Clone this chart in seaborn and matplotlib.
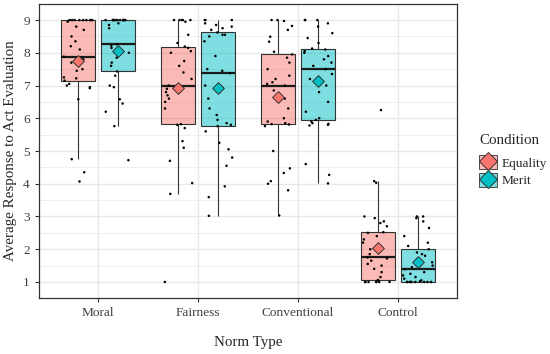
import numpy as np
import pandas as pd
import matplotlib
matplotlib.use("Agg")
import matplotlib.pyplot as plt
import matplotlib.colors as mcolors
from matplotlib.patches import Patch
from matplotlib.lines import Line2D
from matplotlib.ticker import MultipleLocator
import seaborn as sns

# categories
norm_types = ["Moral", "Fairness", "Conventional", "Control"]
conditions = ["Equality", "Merit"]

moral_equality = [4.07, 4.35, 4.75, 6.58, 6.92, 6.95, 7.0, 7.05, 7.15, 7.22, 7.25,
                  7.45, 7.5, 7.7, 7.8, 7.85, 7.88, 8.1, 8.2, 8.35, 8.5, 8.7, 8.8,
                  8.95, 9.0, 9.0, 9.0, 9.0, 9.0, 9.0, 9.0, 9.0, 9.0]
moral_merit = [4.72, 5.76, 6.2, 6.45, 6.58, 6.95, 7.0, 7.3, 7.43, 7.6, 7.7, 7.85,
               8.0, 8.05, 8.15, 8.22, 8.26, 8.75, 8.85, 8.9, 9.0, 9.0, 9.0, 9.0,
               9.0, 9.0, 9.0, 9.0, 9.0, 9.0, 9.0, 9.0, 9.0]
fairness_equality = [1.0, 3.69, 4.02, 4.7, 5.1, 5.3, 5.7, 5.8, 5.82, 6.3, 6.5, 6.6,
                     6.7, 6.8, 6.9, 6.95, 7.0, 7.2, 7.4, 7.6, 7.75, 8.0, 8.05, 8.15,
                     8.19, 8.3, 8.55, 8.95, 9.0, 9.0, 9.0, 9.0, 9.0]
fairness_merit = [3.02, 3.59, 3.92, 4.55, 4.8, 5.05, 5.25, 5.6, 5.76, 5.8, 5.85,
                  5.95, 6.1, 6.3, 6.6, 7.0, 7.38, 7.45, 7.5, 7.9, 8.35, 8.5, 8.55,
                  8.55, 8.62, 8.7, 8.75, 8.8, 8.85, 8.9, 9.0, 9.0, 9.0]
conventional_equality = [3.03, 3.8, 4.0, 4.08, 4.33, 4.47, 5.0, 5.76, 5.81, 5.82,
                         5.85, 5.9, 6.0, 6.3, 6.6, 6.85, 7.0, 7.05, 7.1, 7.2, 7.3,
                         7.5, 7.7, 7.85, 7.95, 8.03, 8.34, 8.49, 8.7, 8.82, 8.97,
                         9.0, 9.0]
conventional_merit = [4.01, 4.27, 4.6, 5.78, 5.8, 5.83, 5.85, 5.9, 5.95, 6.0, 6.2,
                      6.5, 6.8, 7.0, 7.2, 7.35, 7.5, 7.6, 7.7, 7.8, 7.9, 8.0, 8.05,
                      8.1, 8.13, 8.3, 8.45, 8.6, 8.8, 8.9, 9.0, 9.0, 9.0]
control_equality = [1.0, 1.0, 1.0, 1.0, 1.0, 1.0, 1.0, 1.0, 1.06, 1.15, 1.3, 1.4,
                    1.5, 1.55, 1.65, 1.72, 1.75, 1.85, 2.0, 2.1, 2.2, 2.3, 2.4,
                    2.5, 2.52, 2.7, 2.8, 2.85, 2.95, 3.0, 4.03, 4.08, 6.25]
control_merit = [1.0, 1.0, 1.0, 1.0, 1.0, 1.0, 1.0, 1.0, 1.0, 1.02, 1.05, 1.1,
                 1.15, 1.2, 1.25, 1.3, 1.39, 1.45, 1.5, 1.6, 1.7, 1.8, 1.85, 1.9,
                 2.0, 2.1, 2.2, 2.4, 2.65, 2.85, 2.95, 3.0, 3.0]

groups = {
    ("Moral", "Equality"): moral_equality,
    ("Moral", "Merit"): moral_merit,
    ("Fairness", "Equality"): fairness_equality,
    ("Fairness", "Merit"): fairness_merit,
    ("Conventional", "Equality"): conventional_equality,
    ("Conventional", "Merit"): conventional_merit,
    ("Control", "Equality"): control_equality,
    ("Control", "Merit"): control_merit,
}
rows = []
for (norm, cond), vals in groups.items():
    for v in vals:
        rows.append({"Norm Type": norm, "Condition": cond, "score": v})
df = pd.DataFrame(rows)
means = df.groupby(["Norm Type", "Condition"], as_index=False)["score"].mean()

full_colors = {"Equality": "#F8766D", "Merit": "#00BFC4"}
grey20 = "#333333"

sns.set_theme(style="white")
plt.rcParams["font.family"] = ["Liberation Serif", "DejaVu Serif"]

fig, ax = plt.subplots(figsize=(5.5, 3.54), dpi=100)
fig.subplots_adjust(left=39/550, right=457/550, bottom=56/354, top=350/354)

sns.boxplot(data=df, x="Norm Type", y="score", hue="Condition",
            order=norm_types, hue_order=conditions, palette=full_colors,
            saturation=1, width=0.8, gap=0.15, showfliers=False, showcaps=False,
            linewidth=0.8, linecolor=grey20,
            medianprops={"linewidth": 1.6, "color": "#1a1a1a"},
            legend=False, ax=ax)
for p in ax.patches:
    p.set_facecolor(mcolors.to_rgba(p.get_facecolor(), 0.5))

np.random.seed(3)
sns.stripplot(data=df, x="Norm Type", y="score", hue="Condition",
              order=norm_types, hue_order=conditions,
              palette={"Equality": "black", "Merit": "black"},
              dodge=True, jitter=0.3, size=1.8, linewidth=0,
              legend=False, ax=ax)

sns.stripplot(data=means, x="Norm Type", y="score", hue="Condition",
              order=norm_types, hue_order=conditions, palette=full_colors,
              dodge=True, jitter=False, marker="D", size=6,
              linewidth=0.7, edgecolor=grey20, legend=False, ax=ax)

ax.set_xlim(-0.59, 3.59)
ax.set_ylim(0.51, 9.49)
ax.set_yticks(range(1, 10))
ax.yaxis.set_minor_locator(MultipleLocator(0.5))
ax.set_axisbelow(True)
ax.grid(which="major", color="#E8E8E8", linewidth=1.0)
ax.grid(which="minor", axis="y", color="#EBEBEB", linewidth=0.6)
for s in ax.spines.values():
    s.set_visible(True)
    s.set_color(grey20)
    s.set_linewidth(0.9)

ax.tick_params(which="major", length=3, width=0.8, color=grey20,
               labelsize=9.6, labelcolor="#404040", pad=3.5,
               bottom=True, left=True)
ax.tick_params(which="minor", length=0)

ax.set_xlabel("Norm Type", fontsize=10.8)
ax.set_ylabel("Average Response to Act Evaluation", fontsize=10.8)
ax.xaxis.set_label_coords(0.5, -0.128)
ax.yaxis.set_label_coords(-0.053, 0.5)

handles = []
for c in conditions:
    box = Patch(facecolor=mcolors.to_rgba(full_colors[c], 0.5), edgecolor=grey20,
                linewidth=0.6)
    dia = Line2D([], [], marker="D", linestyle="none", markersize=9,
                 markerfacecolor=full_colors[c], markeredgecolor=grey20,
                 markeredgewidth=0.7)
    handles.append((box, dia))
leg = fig.legend(handles, conditions, title="Condition", loc="upper left",
                 bbox_to_anchor=(479/550, 1 - 134/354), frameon=False,
                 fontsize=9.6, title_fontsize=10.8, alignment="left",
                 handlelength=1.35, handleheight=1.2, labelspacing=0.25,
                 handletextpad=0.35, borderpad=0, borderaxespad=0)
leg._legend_box.sep = 6  # a bit more room under the title, like ggplot

fig.savefig("out.png", dpi=100)
